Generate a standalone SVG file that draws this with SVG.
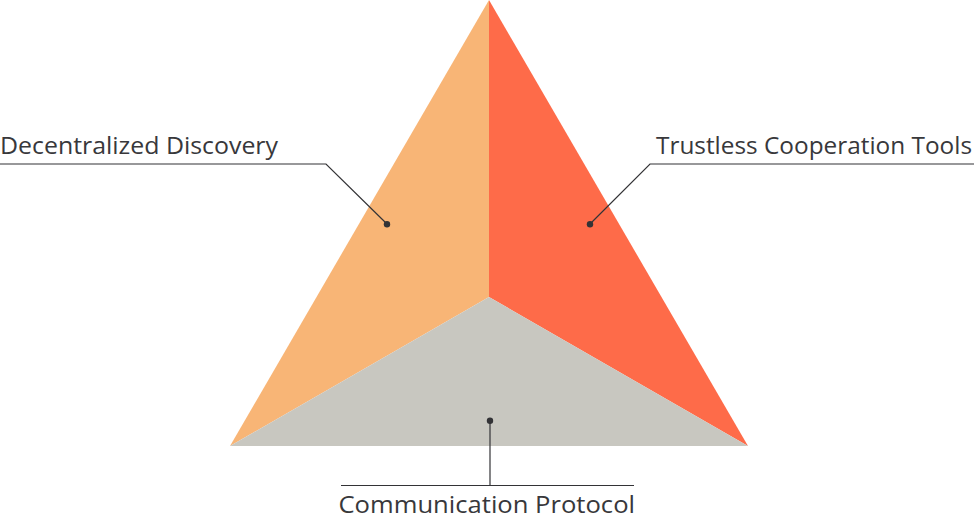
<svg xmlns="http://www.w3.org/2000/svg" width="974" height="515" viewBox="0 0 974 515">
<style>
.lbl{font-family:"Open Sans","Noto Sans",sans-serif;font-weight:400;font-size:23px;fill:#38383b;}
.ln{fill:none;stroke:#333336;stroke-width:1.2;}
.dot{fill:#333336;}
</style>
<rect width="974" height="515" fill="#ffffff"/>
<g id="triangle">
<polygon id="face-left" points="489,0 489,297 230,446" fill="#F8B576"/>
<polygon id="face-right" points="489,0 748,446 489,297" fill="#FE6B49"/>
<polygon id="face-bottom" points="230,446 489,297 748,446" fill="#C8C7C0"/>
</g>
<g id="connectors">
<polyline class="ln" points="0,164 326,164 387,224"/>
<polyline class="ln" points="974,164 650,164 590,224"/>
<polyline class="ln" points="490,421 490,485.5"/>
<line class="ln" x1="341" y1="485.5" x2="634" y2="485.5"/>
<circle class="dot" cx="387" cy="224.3" r="3.2"/>
<circle class="dot" cx="590" cy="224.3" r="3.2"/>
<circle class="dot" cx="490" cy="420.7" r="3.2"/>
</g>
<g id="node-decentralized-discovery">
<text class="lbl" x="0" y="154.3" textLength="278" lengthAdjust="spacingAndGlyphs">Decentralized Discovery</text>
</g>
<g id="node-trustless-cooperation-tools">
<text class="lbl" x="656" y="154.3" textLength="316" lengthAdjust="spacingAndGlyphs">Trustless Cooperation Tools</text>
</g>
<g id="node-communication-protocol">
<text class="lbl" x="338.5" y="513" textLength="296.5" lengthAdjust="spacingAndGlyphs">Communication Protocol</text>
</g>
</svg>
